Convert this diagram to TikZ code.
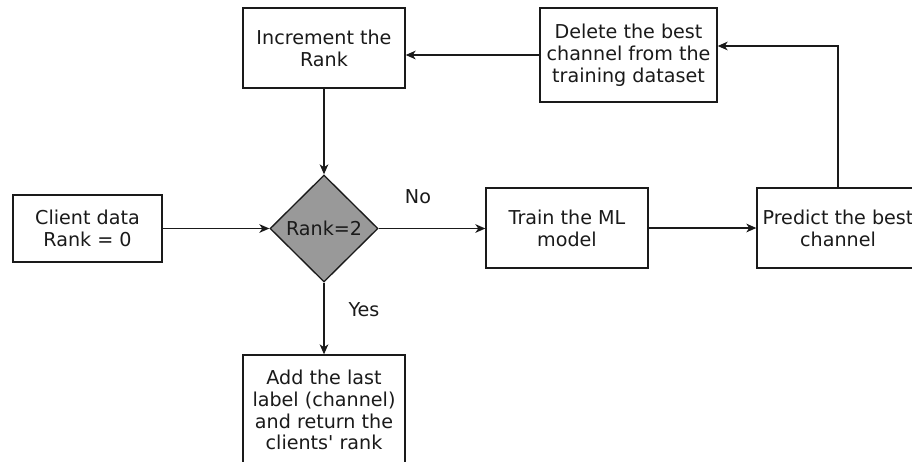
\documentclass[tikz,border=0pt]{standalone}
\usepackage{fontspec}
\setmainfont{DejaVu Sans}[Ligatures=TeXOff]
\usetikzlibrary{shapes.geometric,arrows.meta}
\definecolor{decgray}{HTML}{999999}
\definecolor{linec}{HTML}{1A1A1A}
\begin{document}
\begin{tikzpicture}[x=0.75pt,y=-0.75pt,
  every node/.style={font=\fontsize{14.35pt}{16.4pt}\selectfont, align=center, text=linec},
  procbox/.style={draw=linec, line width=1pt, fill=white, inner sep=2pt},
  decision/.style={diamond, draw=linec, line width=1pt, fill=decgray, aspect=1, inner sep=0pt,
                   minimum width=81pt, minimum height=80.25pt},
  arr/.style={draw=linec, line width=1pt, -{Stealth[length=7.5pt,width=6.5pt,inset=2.2pt]}},
  tag/.style={inner sep=0pt}]
\clip (0,0) rectangle (912,461);
\fill[white] (0,0) rectangle (912,461);

\node[procbox, minimum width=111.75pt, minimum height=50.25pt] (client) at (87.5,228.5) {Client data\\Rank = 0};
\node[decision] (dec) at (324,228.5) {Rank=2};
\node[procbox, minimum width=121.5pt, minimum height=60pt] (inc) at (324,48) {Increment the\\Rank};
\node[procbox, minimum width=132.75pt, minimum height=70.5pt] (del) at (628.5,55) {Delete the best\\channel from the\\training dataset};
\node[procbox, minimum width=121.5pt, minimum height=60pt] (train) at (567,228) {Train the ML\\model};
\node[procbox, minimum width=121.5pt, minimum height=60pt] (pred) at (838,228) {Predict the best\\channel};
\node[procbox, minimum width=121.5pt, minimum height=82.5pt] (add) at (324,410) {Add the last\\label (channel)\\and return the\\clients' rank};

\node[tag] (no) at (418,197) {No};
\node[tag] (yes) at (364,310) {Yes};

\draw[arr] (client.east) -- (dec.west);
\draw[arr] (dec.east) -- (train.west |- dec.east);
\draw[arr] (train.east) -- (pred.west);
\draw[arr] (pred.north) |- ([yshift=6.75pt]del.east);
\draw[arr] (del.west) -- (del.west -| inc.east);
\draw[arr] (inc.south) -- (dec.north);
\draw[arr] (dec.south) -- (add.north);
\end{tikzpicture}
\end{document}
